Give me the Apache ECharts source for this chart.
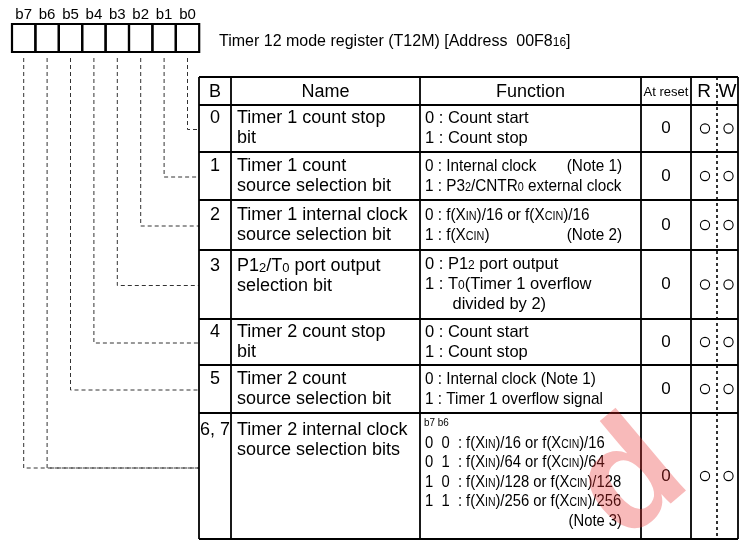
<!DOCTYPE html>
<html><head><meta charset="utf-8">
<script src="https://cdn.jsdelivr.net/npm/echarts@6/dist/echarts.min.js"></script>
<style>html,body{margin:0;padding:0;background:#fff}#c{width:739px;height:540px}</style>
</head><body><div id="c"></div>
<script>
// ---- data ----
const bitLabels = ['b7','b6','b5','b4','b3','b2','b1','b0'];
const bitRow = [6,6,5,4,3,2,1,0];
const titleText = 'Timer 12 mode register (T12M) [Address  00F8{s|16}]';
const headers = ['B','Name','Function','At reset','R','W'];
const bitNumbers = ['0','1','2','3','4','5','6, 7'];
const names = [
  ['Timer 1 count stop','bit'],
  ['Timer 1 count','source selection bit'],
  ['Timer 1 internal clock','source selection bit'],
  ['P1{s|2}/T{s|0} port output','selection bit'],
  ['Timer 2 count stop','bit'],
  ['Timer 2 count','source selection bit'],
  ['Timer 2 internal clock','source selection bits']
];
const functions = [
  ['0 : Count start','1 : Count stop'],
  ['0 : Internal clock','1 : P3{s|2}/CNTR{s|0} external clock'],
  ['0 : f(X{s|IN})/16 or f(X{s|CIN})/16','1 : f(X{s|CIN})'],
  ['0 : P1{s|2} port output','1 : T{s|0}(Timer 1 overflow','      divided by 2)'],
  ['0 : Count start','1 : Count stop'],
  ['0 : Internal clock (Note 1)','1 : Timer 1 overflow signal'],
  ['0  0  : f(X{s|IN})/16 or f(X{s|CIN})/16','0  1  : f(X{s|IN})/64 or f(X{s|CIN})/64','1  0  : f(X{s|IN})/128 or f(X{s|CIN})/128','1  1  : f(X{s|IN})/256 or f(X{s|CIN})/256']
];
const functionHead = ['','','','','','','b7 b6'];
const notes = [null,{line:0,text:'(Note 1)'},{line:1,text:'(Note 2)'},null,null,null,{line:4,text:'(Note 3)'}];
const resetValues = ['0','0','0','0','0','0','0'];
const readable = [true,true,true,true,true,true,true];
const writable = [true,true,true,true,true,true,true];
const watermark = 'd';

// ---- layout / style ----
const FONT = '"Liberation Sans", Arial, sans-serif';
const condensed = [false,true,true,false,false,true,true];
const colX = [199, 231, 420, 641, 691, 717, 738];
const rowY = [77, 105, 152, 200, 250, 319, 365, 413, 539];
const boxL = 12, boxW = 23.4, boxT = 24, boxB = 52;
const LH = 20;

const els = [];
function txt(x, y, text, size, opt) {
  opt = opt || {};
  els.push({
    type: 'text', x: x, y: y, silent: true, scaleX: opt.sx || 1, z: 10,
    style: {
      text: text, fontSize: size, fontFamily: FONT, fill: '#000',
      align: opt.align || 'left', verticalAlign: 'middle',
      rich: { s: { fontSize: Math.round(size * 0.72), fontFamily: FONT, verticalAlign: 'bottom', lineHeight: size, padding: [0, 0, 1, 0] } }
    }
  });
}
function line(x1, y1, x2, y2, w, dash, color) {
  els.push({ type: 'line', silent: true, z: 5, shape: { x1: x1, y1: y1, x2: x2, y2: y2 },
    style: { stroke: color || '#000', lineWidth: w, lineDash: dash || null } });
}

// bit boxes and connectors
bitLabels.forEach(function (b, i) {
  const cx = boxL + boxW * (i + 0.5);
  txt(cx, 15, b, 15, { align: 'center' });
  els.push({ type: 'rect', silent: true, z: 5, shape: { x: boxL + boxW * i, y: boxT, width: boxW, height: boxB - boxT },
    style: { fill: 'none', stroke: '#000', lineWidth: 2.2 } });
  const r = bitRow[i];
  const yy = (rowY[r + 1] + rowY[r + 2]) / 2 + (r === 6 ? -8 : 1);
  els.push({ type: 'polyline', silent: true, z: 4, shape: { points: [[cx, boxB + 6], [cx, yy], [colX[0], yy]] },
    style: { fill: 'none', stroke: '#333', lineWidth: 1, lineDash: [4, 3] } });
});
txt(219, 42, titleText, 16);

// table lines
rowY.forEach(function (y) { line(colX[0], y, colX[6], y, 1.8); });
colX.forEach(function (x, i) {
  if (i === 5) line(x, rowY[0], x, rowY[rowY.length - 1], 1.6, [3, 3]);
  else line(x, rowY[0], x, rowY[rowY.length - 1], 1.8);
});

// header
const hy = (rowY[0] + rowY[1]) / 2 + 1;
const hSizes = [18, 18, 18, 13, 19, 19];
headers.forEach(function (h, i) {
  txt((colX[i] + colX[i + 1]) / 2, hy, h, hSizes[i], { align: 'center' });
});

// rows
for (let r = 0; r < bitNumbers.length; r++) {
  const top = rowY[r + 1], bot = rowY[r + 2], mid = (top + bot) / 2;
  const fs = condensed[r] ? 17 : 16.5;
  const sx = condensed[r] ? (r === 6 ? 0.87 : 0.9) : 1;
  let nameY, fnY, step;
  if (r === 6) {
    nameY = top + 17; fnY = top + 30; step = 19.5;
    txt(colX[2] + 4, top + 10, functionHead[r], 11, { sx: 0.9 });
  } else {
    const n = Math.max(names[r].length, functions[r].length);
    step = LH;
    fnY = mid - (n - 1) * step / 2;
    nameY = fnY + (names[r].length < n ? 2 : 0);
  }
  txt((colX[0] + colX[1]) / 2, nameY, bitNumbers[r], 18, { align: 'center' });
  names[r].forEach(function (t, k) { txt(colX[1] + 6, nameY + k * LH, t, 18); });
  functions[r].forEach(function (t, k) { txt(colX[2] + 5, fnY + k * step, t, fs, { sx: sx }); });
  if (notes[r]) txt(622, fnY + notes[r].line * step, notes[r].text, fs, { sx: sx, align: 'right' });
  txt((colX[3] + colX[4]) / 2, mid, resetValues[r], 17, { align: 'center' });
  if (readable[r]) els.push({ type: 'circle', silent: true, z: 6, shape: { cx: (colX[4] + colX[5]) / 2 + 1, cy: mid, r: 4.6 }, style: { fill: 'none', stroke: '#000', lineWidth: 1.1 } });
  if (writable[r]) els.push({ type: 'circle', silent: true, z: 6, shape: { cx: (colX[5] + colX[6]) / 2 + 1, cy: mid, r: 4.6 }, style: { fill: 'none', stroke: '#000', lineWidth: 1.1 } });
}

// watermark fragment (red, partially transparent, on top)
els.push({ type: 'text', x: 632, y: 482, rotation: 0.7, silent: true, z: 20,
  style: { text: watermark, fontSize: 150, fontWeight: 'bold', fontFamily: FONT, fill: 'rgba(235,45,45,0.33)', align: 'center', verticalAlign: 'middle' } });

const chart = echarts.init(document.getElementById('c'), null, { renderer: 'canvas' });
chart.setOption({ animation: false, backgroundColor: '#fff', graphic: { elements: els } });
</script>
</body></html>
